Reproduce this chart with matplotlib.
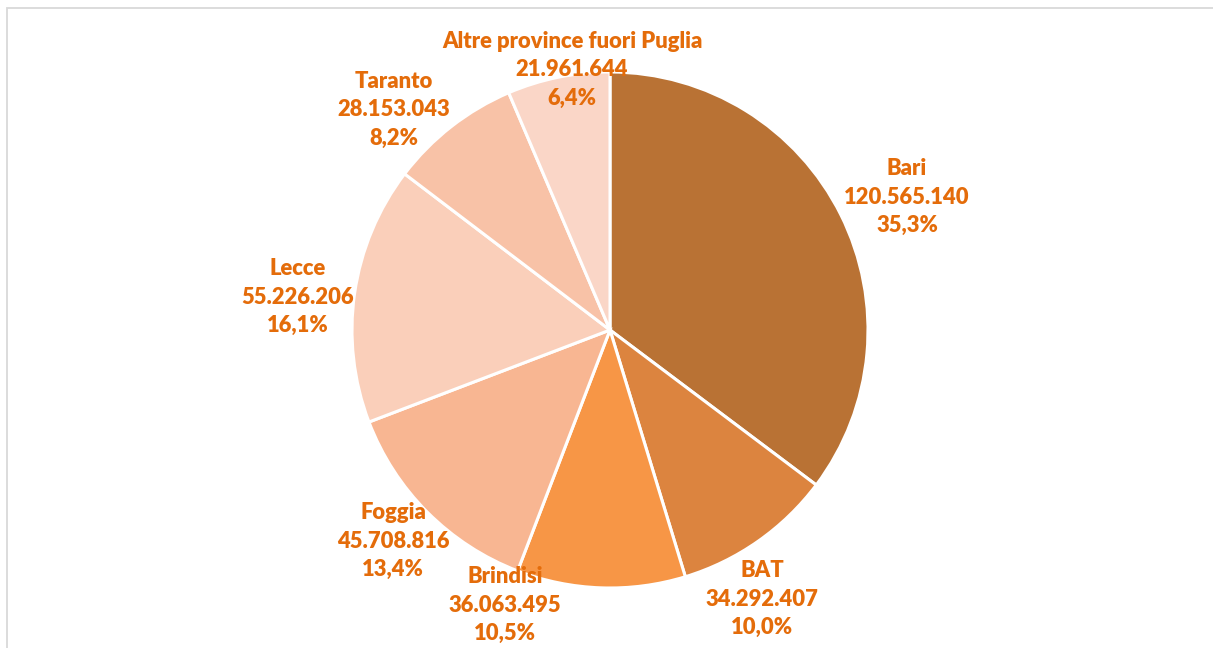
import matplotlib.pyplot as plt
from matplotlib.patches import Rectangle
import numpy as np

plt.rc('font', family=['Lato', 'DejaVu Sans'], weight='bold')

# import data
province = ['Bari', 'BAT', 'Brindisi', 'Foggia', 'Lecce', 'Taranto',
            'Altre province fuori Puglia']
valori = [120565140, 34292407, 36063495, 45708816, 55226206, 28153043, 21961644]
quote = ['35,3%', '10,0%', '10,5%', '13,4%', '16,1%', '8,2%', '6,4%']

colori = ['#B97234', '#DC843F', '#F79646', '#F8B692', '#FACFBA', '#F8C2A7', '#FAD6C7']
# label centres, pixel offsets from the pie centre
pos_label = [(297, 133), (152, -269), (-105, -275), (-217, -211),
             (-312, 33), (-216, 220), (-38, 260)]

W, H = 1213, 648
cx, cy = 610, 330
R = 258

fig = plt.figure(figsize=(W/100, H/100), dpi=100)
ax = fig.add_axes([0, 0, 1, 1])

ax.pie(valori, colors=colori, startangle=90, counterclock=False, radius=R,
       wedgeprops=dict(edgecolor='white', linewidth=2.2))

# pie() resets the limits, so set them afterwards
ax.set_xlim(-cx, W - cx)
ax.set_ylim(-(H - cy), cy)
ax.set_aspect('equal')
ax.axis('off')

def fmt(v):
    return f'{v:,}'.replace(',', '.')

for nome, v, q, (x, y) in zip(province, valori, quote, pos_label):
    ax.text(x, y, f'{nome}\n{fmt(v)}\n{q}', ha='center', va='center',
            color='#E46C0A', fontsize=15.8, fontweight='heavy', linespacing=1.42)

# chart frame
fig.patches.append(Rectangle((6.5/W, -0.1), 1.2, (H - 8.5)/H + 0.1,
                             transform=fig.transFigure, fill=False,
                             edgecolor='#D9D9D9', linewidth=1.3))

plt.savefig('out.png', dpi=100)
